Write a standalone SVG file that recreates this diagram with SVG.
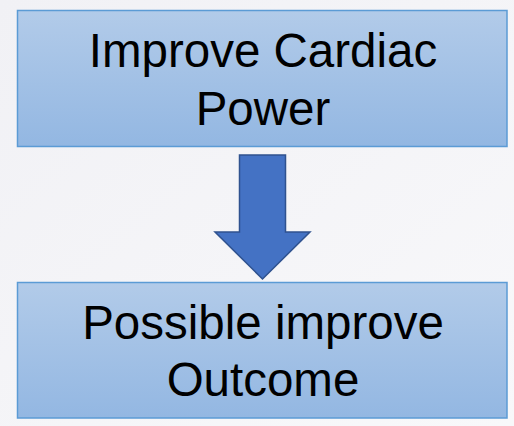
<svg xmlns="http://www.w3.org/2000/svg" width="514" height="426" viewBox="0 0 514 426">
  <defs>
    <linearGradient id="boxFill" x1="0" y1="0" x2="0" y2="1">
      <stop offset="0" stop-color="#b2cbe9"/>
      <stop offset="1" stop-color="#93b7e2"/>
    </linearGradient>
    <linearGradient id="bg" x1="0" y1="0" x2="1" y2="1">
      <stop offset="0" stop-color="#f1f1f5"/>
      <stop offset="1" stop-color="#f8f8fa"/>
    </linearGradient>
    <style>
      .box { fill: url(#boxFill); stroke: #5b9bd5; stroke-width: 1.5; }
      .label { font-family: "Liberation Sans", Arial, sans-serif; font-size: 47.5px; fill: #000; text-anchor: middle; }
      .arrow { fill: #4472c4; stroke: #2f528f; stroke-width: 1.5; stroke-linejoin: miter; }
    </style>
  </defs>

  <rect width="514" height="426" fill="url(#bg)"/>

  <g id="node-cardiac-power">
    <rect class="box" x="17.5" y="10.5" width="489.5" height="136"/>
    <text class="label" x="263" y="67">Improve Cardiac</text>
    <text class="label" x="263" y="125">Power</text>
  </g>

  <g id="node-outcome">
    <rect class="box" x="17.5" y="282.5" width="489.5" height="135.5"/>
    <text class="label" x="263" y="339">Possible improve</text>
    <text class="label" x="263" y="396">Outcome</text>
  </g>

  <g id="connectors">
    <path class="arrow" d="M239.5,155 L285.5,155 L285.5,232 L310,232 L262.5,279 L215,232 L239.5,232 Z"/>
  </g>
</svg>
